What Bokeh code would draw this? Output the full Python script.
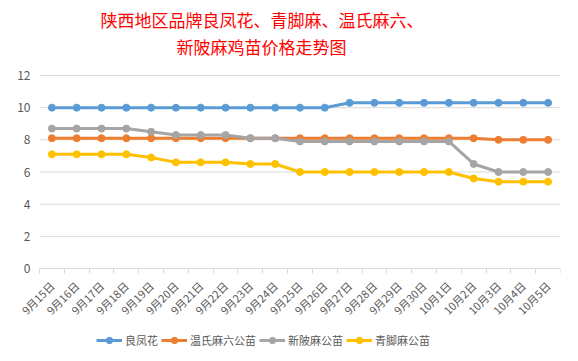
import math
from bokeh.plotting import figure
from bokeh.models import FixedTicker, Legend, LegendItem, Title, Range1d
from bokeh.embed import file_html
from bokeh.resources import INLINE

dates = ["9月15日", "9月16日", "9月17日", "9月18日", "9月19日", "9月20日", "9月21日",
         "9月22日", "9月23日", "9月24日", "9月25日", "9月26日", "9月27日", "9月28日",
         "9月29日", "9月30日", "10月1日", "10月2日", "10月3日", "10月4日", "10月5日"]

liangfenghua = [10, 10, 10, 10, 10, 10, 10, 10, 10, 10, 10, 10,
                10.3, 10.3, 10.3, 10.3, 10.3, 10.3, 10.3, 10.3, 10.3]
wenshi = [8.1, 8.1, 8.1, 8.1, 8.1, 8.1, 8.1, 8.1, 8.1, 8.1, 8.1, 8.1,
          8.1, 8.1, 8.1, 8.1, 8.1, 8.1, 8.0, 8.0, 8.0]
xinpo = [8.7, 8.7, 8.7, 8.7, 8.5, 8.3, 8.3, 8.3, 8.1, 8.1, 7.9, 7.9,
         7.9, 7.9, 7.9, 7.9, 7.9, 6.5, 6.0, 6.0, 6.0]
qingjiao = [7.1, 7.1, 7.1, 7.1, 6.9, 6.6, 6.6, 6.6, 6.5, 6.5, 6.0, 6.0,
            6.0, 6.0, 6.0, 6.0, 6.0, 5.6, 5.4, 5.4, 5.4]

series_names = ["良凤花", "温氏麻六公苗", "新陂麻公苗", "青脚麻公苗"]
series_values = [liangfenghua, wenshi, xinpo, qingjiao]
series_colors = ["#5B9BD5", "#ED7D31", "#A5A5A5", "#FFC000"]

title_lines = ["陕西地区品牌良凤花、青脚麻、温氏麻六、", "新陂麻鸡苗价格走势图"]
y_ticks = [0, 2, 4, 6, 8, 10, 12]

FONT = "Noto Sans CJK SC"
TXT = "#595959"
GRID = "#D9D9D9"

xs = list(range(len(dates)))
x_lo, x_hi = xs[0] - 0.5, xs[-1] + 0.5

# geometry (pixels): value band is 521 x 193 px; the drawing area extends
# beyond it so that axis labels and legend are not clipped
BAND_W, BAND_H = 521, 193
EXTRA_LEFT, EXTRA_DOWN, EXTRA_UP = 34, 90, 8
px_x = BAND_W / (x_hi - x_lo)
px_y = BAND_H / (y_ticks[-1] - y_ticks[0])
X_START = x_lo - EXTRA_LEFT / px_x
Y_START = y_ticks[0] - EXTRA_DOWN / px_y
Y_END = y_ticks[-1] + EXTRA_UP / px_y

p = figure(width=578, height=361, output_backend="svg", toolbar_location=None,
           x_range=Range1d(X_START, x_hi), y_range=Range1d(Y_START, Y_END),
           min_border_left=5, min_border_right=18, min_border_top=75 - EXTRA_UP,
           min_border_bottom=3)
p.frame_width = BAND_W + EXTRA_LEFT
p.frame_height = BAND_H + EXTRA_DOWN + EXTRA_UP
p.outline_line_color = None
p.background_fill_color = "white"
p.border_fill_color = "white"

# x axis drawn at value 0
p.xaxis.fixed_location = y_ticks[0]
p.xaxis.bounds = (x_lo, x_hi)
p.xaxis.ticker = FixedTicker(ticks=xs, minor_ticks=[i - 0.5 for i in range(len(dates) + 1)])
p.xaxis.major_label_overrides = {i: d for i, d in enumerate(dates)}
p.xaxis.major_label_orientation = math.pi / 4
p.xaxis.major_tick_line_color = None
p.xaxis.minor_tick_line_color = GRID
p.xaxis.minor_tick_in = 0
p.xaxis.minor_tick_out = 5
p.xaxis.axis_line_color = GRID
p.xaxis.major_label_standoff = 9
p.xaxis.major_label_text_color = TXT
p.xaxis.major_label_text_font = FONT
p.xaxis.major_label_text_font_size = "11px"

# y axis drawn at the left edge of the value band
p.yaxis.fixed_location = x_lo
p.yaxis.bounds = (y_ticks[0], y_ticks[-1])
p.yaxis.ticker = FixedTicker(ticks=y_ticks)
p.yaxis.axis_line_color = None
p.yaxis.major_tick_line_color = None
p.yaxis.major_tick_out = 0
p.yaxis.major_tick_in = 0
p.yaxis.minor_tick_line_color = None
p.yaxis.major_label_standoff = 9
p.yaxis.major_label_text_color = TXT
p.yaxis.major_label_text_font = FONT
p.yaxis.major_label_text_font_size = "12px"

p.xgrid.grid_line_color = None
p.ygrid.grid_line_color = None
gy = y_ticks[1:]
p.segment(x0=[x_lo] * len(gy), x1=[x_hi] * len(gy), y0=gy, y1=gy,
          line_color=GRID, line_width=1)

items = []
for name, vals, col in zip(series_names, series_values, series_colors):
    r1 = p.line(xs, vals, line_color=col, line_width=3)
    r2 = p.scatter(xs, vals, marker="circle", size=7, fill_color=col, line_color=col)
    items.append(LegendItem(label=name, renderers=[r1, r2]))

legend = Legend(items=items, orientation="horizontal", location=(EXTRA_LEFT + 57, 10),
                glyph_width=26, glyph_height=16, label_height=16, label_standoff=3,
                spacing=3, padding=0, margin=0,
                label_text_font=FONT, label_text_font_size="11px", label_text_color=TXT,
                border_line_color=None, background_fill_alpha=0)
p.add_layout(legend, "center")

# spacer between the plot area and the two title lines
title_offsets = [EXTRA_LEFT + 61, EXTRA_LEFT + 137]
p.add_layout(Title(text=" ", text_font=FONT, text_font_size="5px", standoff=0), "above")
for line, off in reversed(list(zip(title_lines, title_offsets))):
    p.add_layout(Title(text=line, align="left", offset=off, text_color="#FF0000",
                       text_font=FONT, text_font_size="17px", text_font_style="normal",
                       text_line_height=0.92, standoff=0), "above")

open("out.html", "w").write(file_html(p, INLINE))
